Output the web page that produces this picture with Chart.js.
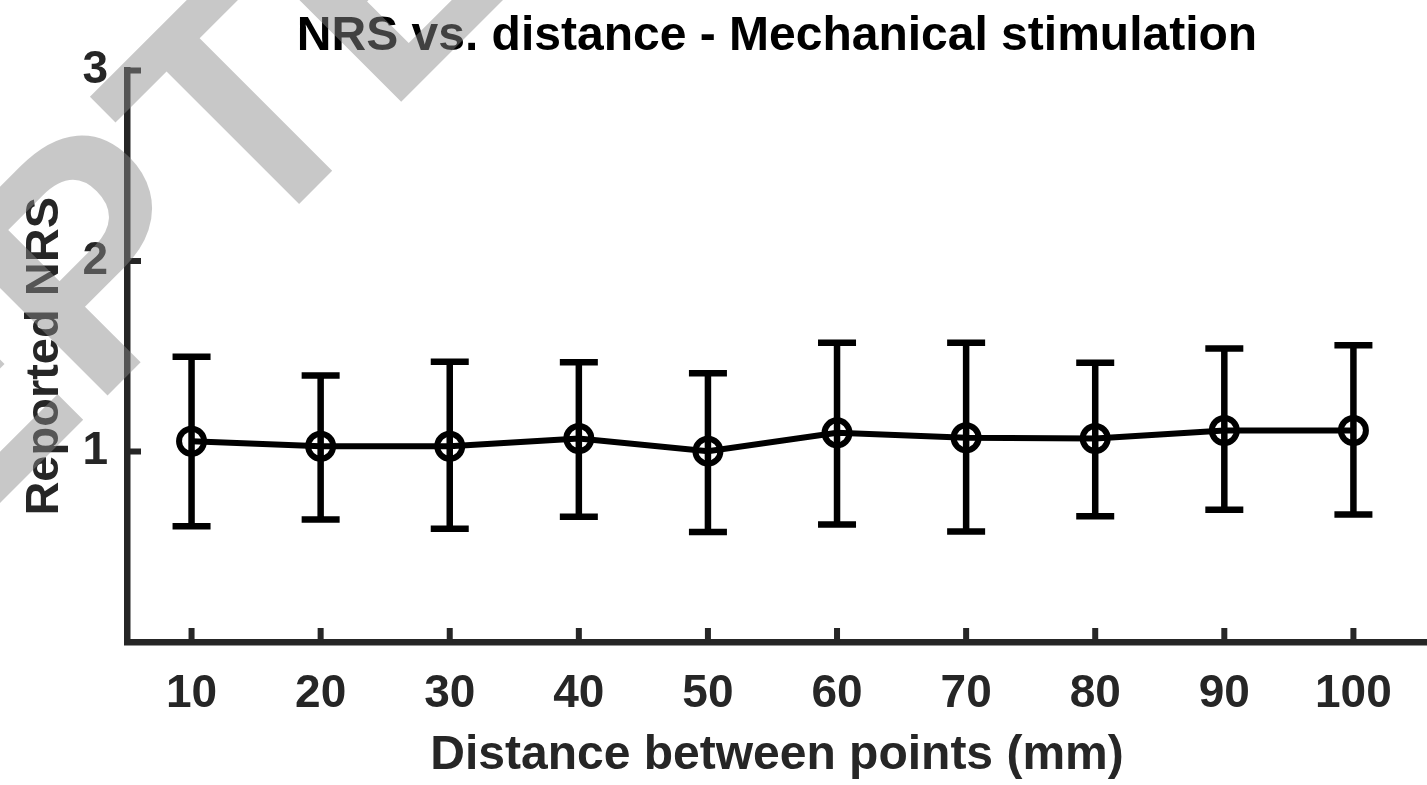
<!DOCTYPE html>
<html>
<head>
<meta charset="utf-8">
<title>NRS vs. distance - Mechanical stimulation</title>
<script src="https://cdn.jsdelivr.net/npm/chart.js@4.4.0/dist/chart.umd.min.js"></script>
<style>
    html, body { margin:0; padding:0; background:#fff; overflow:hidden; }
    canvas { display:block; }
</style>
</head>
<body>
<canvas id="myChart" width="1427" height="785"></canvas>
<script>
// values
const distances = [10, 20, 30, 40, 50, 60, 70, 80, 90, 100];
const meanNRS   = [1.054, 1.028, 1.028, 1.068, 1.002, 1.098, 1.072, 1.068, 1.110, 1.110];
const upperNRS  = [1.497, 1.399, 1.471, 1.469, 1.411, 1.571, 1.571, 1.466, 1.541, 1.558];
const lowerNRS  = [0.608, 0.643, 0.594, 0.657, 0.578, 0.617, 0.580, 0.660, 0.694, 0.669];
const xTicks = [10, 20, 30, 40, 50, 60, 70, 80, 90, 100];
const yTicks = [1, 2, 3];

const fontFam = '"Liberation Sans", Arial, Helvetica, sans-serif';
const axisCol = '#262626';

const points = [];
for (var i = 0; i < distances.length; i++) {
    points.push({x: distances[i], y: meanNRS[i]});
}

// vertical error bars with caps, under the markers
const errorBars = {
    id: 'errorBars',
    beforeDatasetsDraw: function(chart) {
        const ctx = chart.ctx;
        const xs = chart.scales.x, ys = chart.scales.y;
        ctx.save();
        ctx.strokeStyle = '#000';
        ctx.lineWidth = 6.5;
        ctx.lineCap = 'butt';
        for (var i = 0; i < distances.length; i++) {
            const px = xs.getPixelForValue(distances[i]);
            const top = ys.getPixelForValue(upperNRS[i]);
            const bot = ys.getPixelForValue(lowerNRS[i]);
            ctx.beginPath();
            ctx.moveTo(px, top); ctx.lineTo(px, bot);
            ctx.moveTo(px - 19, top); ctx.lineTo(px + 19, top);
            ctx.moveTo(px - 19, bot); ctx.lineTo(px + 19, bot);
            ctx.stroke();
        }
        ctx.restore();
    }
};

// inward tick marks + the grey watermark on top of everything
const overlay = {
    id: 'overlay',
    afterDraw: function(chart) {
        const ctx = chart.ctx;
        const xs = chart.scales.x, ys = chart.scales.y;
        const area = chart.chartArea;
        ctx.save();
        ctx.strokeStyle = axisCol;
        ctx.lineWidth = 6;
        ctx.beginPath();
        yTicks.forEach(function(v) {
            const py = ys.getPixelForValue(v);
            ctx.moveTo(area.left, py); ctx.lineTo(area.left + 14, py);
        });
        xTicks.forEach(function(v) {
            const px = xs.getPixelForValue(v);
            ctx.moveTo(px, area.bottom); ctx.lineTo(px, area.bottom - 14);
        });
        ctx.stroke();

        ctx.translate(-559, 1062);
        ctx.rotate(-Math.PI / 4);
        ctx.fillStyle = 'rgba(138,138,138,0.47)';
        ctx.font = 'bold 325px ' + fontFam;
        ctx.textAlign = 'left';
        ctx.textBaseline = 'alphabetic';
        ctx.fillText('ACCEPTED MANUSCRIPT', 0, 0);
        ctx.restore();
    }
};

const ctx = document.getElementById('myChart').getContext('2d');
window.myChart = new Chart(ctx, {
    type: 'line',
    data: {
        datasets: [{
            data: points,
            borderColor: '#000',
            borderWidth: 6,
            pointStyle: 'circle',
            pointRadius: 12.5,
            pointBorderWidth: 6,
            pointBorderColor: '#000',
            pointBackgroundColor: 'rgba(0,0,0,0)',
            pointHoverRadius: 12.5,
            fill: false,
            tension: 0,
            clip: false
        }]
    },
    options: {
        responsive: false,
        animation: false,
        layout: { padding: 0, autoPadding: false },
        plugins: {
            legend: { display: false },
            tooltip: { enabled: false },
            title: {
                display: true,
                text: 'NRS vs. distance - Mechanical stimulation',
                fullSize: false,
                color: '#000',
                font: { family: fontFam, size: 48, weight: 'bold' },
                padding: { top: 8, bottom: 5 }
            }
        },
        scales: {
            x: {
                type: 'linear',
                min: 5,
                max: 105.7,
                afterBuildTicks: function(scale) {
                    scale.ticks = xTicks.map(function(v) { return {value: v}; });
                },
                afterFit: function(scale) {
                    scale.height = 143;
                    scale.paddingLeft = 0;
                    scale.paddingRight = 0;
                },
                grid: { display: false, drawTicks: false },
                border: { display: true, color: axisCol, width: 6.5 },
                ticks: {
                    color: axisCol,
                    padding: 25,
                    maxRotation: 0,
                    autoSkip: false,
                    font: { family: fontFam, size: 46, weight: 'bold' }
                },
                title: {
                    display: true,
                    text: 'Distance between points (mm)',
                    color: axisCol,
                    font: { family: fontFam, size: 48, weight: 'bold' },
                    padding: { top: 0, bottom: 0 }
                }
            },
            y: {
                min: 0,
                max: 3,
                afterBuildTicks: function(scale) {
                    scale.ticks = yTicks.map(function(v) { return {value: v}; });
                },
                afterFit: function(scale) { scale.width = 127; },
                grid: { display: false, drawTicks: false },
                border: { display: true, color: axisCol, width: 6.5 },
                ticks: {
                    color: axisCol,
                    padding: 19,
                    font: { family: fontFam, size: 46, weight: 'bold' }
                },
                title: {
                    display: true,
                    text: 'Reported NRS',
                    color: axisCol,
                    font: { family: fontFam, size: 47, weight: 'bold' },
                    padding: { top: 17, bottom: 0 }
                }
            }
        }
    },
    plugins: [errorBars, overlay]
});
</script>
</body>
</html>
